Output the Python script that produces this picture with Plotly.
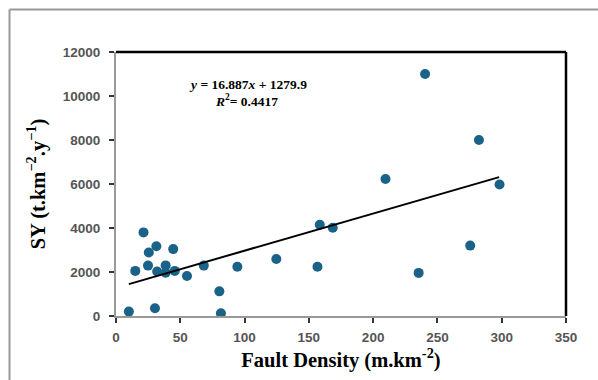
import plotly.graph_objects as go

fault_density = [10, 15, 21.4, 25.5, 24.9, 31.4, 32, 30.3, 38.6, 38.6, 44.5, 45.7, 55.2, 68.3,
                 80.4, 81.6, 94.4, 124.7, 156.7, 158.5, 168.6, 209.6, 235.4, 240.4, 275.5, 282.3, 298.3]
sy = [200, 2050, 3800, 2890, 2290, 3170, 2020, 350, 2300, 1970, 3040, 2050, 1820, 2290,
      1120, 120, 2240, 2590, 2240, 4150, 4010, 6230, 1960, 11000, 3200, 8000, 5980]

slope = 16.887
intercept = 1279.9
trend_x = [10, 298]
trend_y = [slope * v + intercept for v in trend_x]

x_ticks = [0, 50, 100, 150, 200, 250, 300, 350]
y_ticks = [0, 2000, 4000, 6000, 8000, 10000, 12000]

W, H = 598, 380
L, R, T, B = 116, 32, 52, 64
pw, ph = W - L - R, H - T - B

fig = go.Figure()
fig.add_trace(go.Scatter(x=fault_density, y=sy, mode="markers",
                         marker=dict(color="#1a6287", size=10), showlegend=False))
fig.add_trace(go.Scatter(x=trend_x, y=trend_y, mode="lines",
                         line=dict(color="black", width=2), showlegend=False))

tickfont = dict(family="Liberation Sans, Arial", size=13.5, color="#555555", weight="bold")
titlefont = dict(family="Liberation Serif, Times New Roman", size=20.5, color="black")

fig.update_xaxes(range=[0, 350], tickvals=x_ticks, ticktext=[str(v) for v in x_ticks],
                 ticks="outside", ticklen=5, tickwidth=2, ticklabelstandoff=3,
                 tickcolor="#333333", showline=True, linecolor="#999999", linewidth=2,
                 showgrid=False, zeroline=False, tickfont=tickfont,
                 title=dict(text="<b>Fault Density (m.km<sup>-2</sup>)</b>", font=titlefont, standoff=4))
fig.update_yaxes(range=[0, 12000], tickvals=y_ticks, ticktext=[str(v) for v in y_ticks],
                 ticks="outside", ticklen=5, tickwidth=2, ticklabelstandoff=6,
                 tickcolor="#333333", showline=True, linecolor="#999999", linewidth=2,
                 showgrid=False, zeroline=False, tickfont=tickfont,
                 title=dict(text="<b>SY (t.km<sup>−2</sup>.y<sup>−1</sup>)</b>", font=titlefont, standoff=12))

def px_to_paper_x(px):
    return (px - L) / pw

def px_to_paper_y(py):
    return (H - B - py) / ph

shapes = [
    dict(type="line", xref="paper", yref="paper", x0=0, x1=1, y0=1, y1=1,
         line=dict(color="black", width=2.5)),
    dict(type="line", xref="paper", yref="paper", x0=1, x1=1, y0=0, y1=1,
         line=dict(color="black", width=2.5)),
    dict(type="line", xref="paper", yref="paper", x0=px_to_paper_x(9.5), x1=px_to_paper_x(9.5),
         y0=px_to_paper_y(9.5), y1=px_to_paper_y(H + 5), line=dict(color="#999999", width=2)),
    dict(type="line", xref="paper", yref="paper", x0=px_to_paper_x(9.5), x1=px_to_paper_x(W + 5),
         y0=px_to_paper_y(9.5), y1=px_to_paper_y(9.5), line=dict(color="#999999", width=2)),
]

eqfont = dict(family="Liberation Serif, Times New Roman", size=13.5, color="black")
annotations = [
    dict(x=px_to_paper_x(247.5), y=px_to_paper_y(84), xref="paper", yref="paper",
         xanchor="center", yanchor="middle",
         text="<b><i>y</i> = 16.887<i>x</i> + 1279.9</b>", showarrow=False, font=eqfont),
    dict(x=px_to_paper_x(246.5), y=px_to_paper_y(101), xref="paper", yref="paper",
         xanchor="center", yanchor="middle",
         text="<b><i>R</i><sup>2</sup>= 0.4417</b>", showarrow=False, font=eqfont),
]

fig.update_layout(width=W, height=H, margin=dict(l=L, r=R, t=T, b=B, autoexpand=False),
                  plot_bgcolor="white", paper_bgcolor="white",
                  shapes=shapes, annotations=annotations)

fig.write_html("out.html")
